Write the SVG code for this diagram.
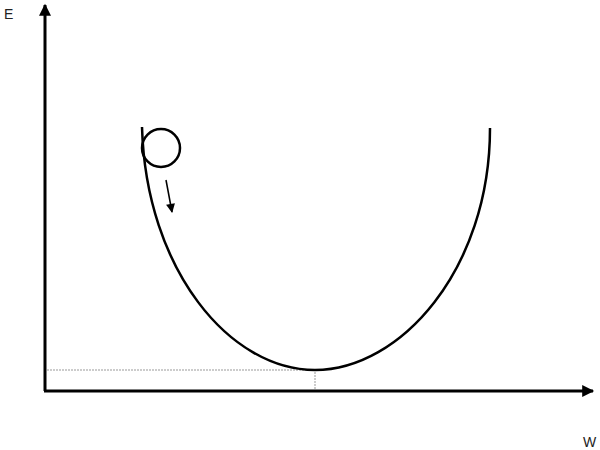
<svg xmlns="http://www.w3.org/2000/svg" width="600" height="450" viewBox="0 0 600 450">
<style>
.axis{stroke:#000;stroke-width:3;fill:none}
.curve{stroke:#000;stroke-width:2.5;fill:none}
.guide{stroke:#999;stroke-width:1;stroke-dasharray:2 1;fill:none}
.lbl{font-family:"Liberation Sans",Arial,sans-serif;font-size:14px;fill:#222}
</style>
<defs>
<marker id="ah" viewBox="0 0 10 10" refX="9" refY="5" markerWidth="4.5" markerHeight="4" orient="auto" markerUnits="strokeWidth">
<path d="M0,0 L10,5 L0,10 z" fill="#000"/>
</marker>
<marker id="ahs" viewBox="0 0 10 10" refX="9" refY="5" markerWidth="7" markerHeight="6" orient="auto" markerUnits="strokeWidth">
<path d="M0,0 L10,5 L0,10 z" fill="#000"/>
</marker>
</defs>
<rect width="600" height="450" fill="#fff"/>
<g id="connectors">
<line class="axis" x1="45" y1="391" x2="45" y2="5" marker-end="url(#ah)"/>
<line class="axis" x1="44" y1="391" x2="593" y2="391" marker-end="url(#ah)"/>
<polyline class="guide" points="47,370 315,370 315,390"/>
<line x1="166" y1="180" x2="172" y2="212" stroke="#000" stroke-width="1.5" marker-end="url(#ahs)"/>
</g>
<g id="curve">
<path class="curve" d="M142,127 C146,270 230,370 315,370 C400,370 490,270 490,128"/>
</g>
<g id="ball">
<circle cx="161" cy="148" r="19" fill="none" stroke="#000" stroke-width="2.5"/>
</g>
<g id="labels">
<text class="lbl" x="4" y="19">E</text>
<text class="lbl" x="583" y="447">W</text>
</g>
</svg>
